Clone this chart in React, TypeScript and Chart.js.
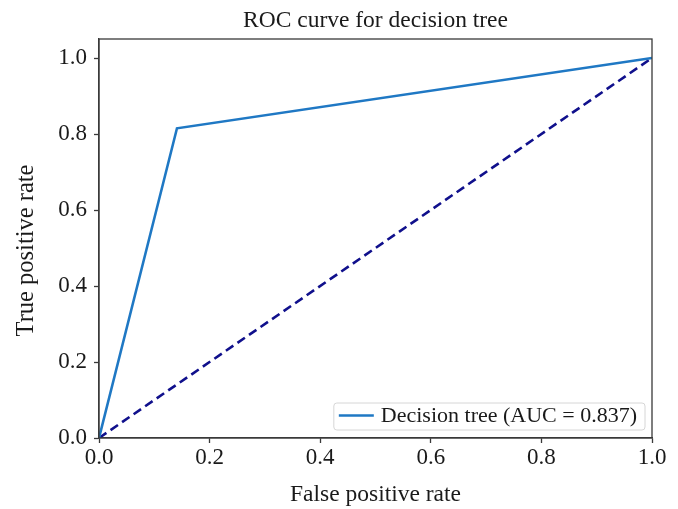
import React, { useEffect, useRef } from "react";
import { Chart, registerables } from "chart.js";

Chart.register(...registerables);

const rocFpr = [0, 0.141, 1];
const rocTpr = [0, 0.815, 1];
const chanceFpr = [0, 1];
const chanceTpr = [0, 1];
const xTickValues = [0, 0.2, 0.4, 0.6, 0.8, 1.0];
const yTickValues = [0, 0.2, 0.4, 0.6, 0.8, 1.0];
const rocLabel = "Decision tree (AUC = 0.837)";
const titleText = "ROC curve for decision tree";
const xTitle = "False positive rate";
const yTitle = "True positive rate";

const FONT = '"Liberation Serif", "Times New Roman", serif';
const TEXT = "#1a1a1a";
const AXIS = "#3a3a3a";
const ROC_COLOR = "#1f78c4";
const CHANCE_COLOR = "#10108c";

const framePlugin = {
  id: "frame",
  afterDatasetsDraw(chart: any) {
    const { ctx, chartArea } = chart;
    ctx.save();
    ctx.strokeStyle = AXIS;
    ctx.lineWidth = 1.3;
    ctx.strokeRect(chartArea.left, chartArea.top, chartArea.right - chartArea.left, chartArea.bottom - chartArea.top);
    ctx.restore();
  },
};

const textPlugin = {
  id: "texts",
  afterDraw(chart: any) {
    const { ctx, chartArea } = chart;
    ctx.save();
    ctx.fillStyle = TEXT;
    ctx.textAlign = "center";
    ctx.font = `23.5px ${FONT}`;
    ctx.textBaseline = "alphabetic";
    ctx.fillText(titleText, (chartArea.left + chartArea.right) / 2, 27);
    ctx.font = `24.5px ${FONT}`;
    ctx.textBaseline = "middle";
    ctx.translate(27, (chartArea.top + chartArea.bottom) / 2 + 12);
    ctx.rotate(-Math.PI / 2);
    ctx.fillText(yTitle, 0, 0);
    ctx.restore();
  },
};

const legendPlugin = {
  id: "cornerLegend",
  afterDraw(chart: any) {
    const { ctx, chartArea } = chart;
    const ds = chart.data.datasets[0];
    ctx.save();
    ctx.font = `22px ${FONT}`;
    const textW = ctx.measureText(ds.label).width;
    const boxRight = chartArea.right - 7;
    const boxBottom = chartArea.bottom - 8;
    const boxH = 27;
    const lineLen = 35;
    const padL = 5;
    const gap = 7;
    const padR = 8;
    const boxW = padL + lineLen + gap + textW + padR;
    const x0 = boxRight - boxW;
    const y0 = boxBottom - boxH;
    const r = 3;
    ctx.beginPath();
    ctx.moveTo(x0 + r, y0);
    ctx.lineTo(x0 + boxW - r, y0);
    ctx.quadraticCurveTo(x0 + boxW, y0, x0 + boxW, y0 + r);
    ctx.lineTo(x0 + boxW, y0 + boxH - r);
    ctx.quadraticCurveTo(x0 + boxW, y0 + boxH, x0 + boxW - r, y0 + boxH);
    ctx.lineTo(x0 + r, y0 + boxH);
    ctx.quadraticCurveTo(x0, y0 + boxH, x0, y0 + boxH - r);
    ctx.lineTo(x0, y0 + r);
    ctx.quadraticCurveTo(x0, y0, x0 + r, y0);
    ctx.closePath();
    ctx.fillStyle = "rgba(255,255,255,0.85)";
    ctx.fill();
    ctx.strokeStyle = "#d6d6d6";
    ctx.lineWidth = 1;
    ctx.stroke();
    const cy = y0 + boxH / 2;
    ctx.beginPath();
    ctx.moveTo(x0 + padL, cy - 1);
    ctx.lineTo(x0 + padL + lineLen, cy - 1);
    ctx.strokeStyle = ds.borderColor;
    ctx.lineWidth = 2.5;
    ctx.stroke();
    ctx.fillStyle = TEXT;
    ctx.textBaseline = "middle";
    ctx.textAlign = "left";
    ctx.fillText(ds.label, x0 + padL + lineLen + gap, cy);
    ctx.restore();
  },
};

export default function App() {
  const ref = useRef<HTMLCanvasElement>(null);
  useEffect(() => {
    if (!ref.current) return;
    const chart = new Chart(ref.current, {
      type: "scatter",
      data: {
        datasets: [
          {
            label: rocLabel,
            data: rocFpr.map((x, i) => ({ x, y: rocTpr[i] })),
            showLine: true,
            borderColor: ROC_COLOR,
            borderWidth: 2.6,
            pointRadius: 0,
            fill: false,
          },
          {
            label: "chance",
            data: chanceFpr.map((x, i) => ({ x, y: chanceTpr[i] })),
            showLine: true,
            borderColor: CHANCE_COLOR,
            borderWidth: 2.6,
            borderDash: [9, 5],
            pointRadius: 0,
            fill: false,
          },
        ],
      },
      options: {
        responsive: false,
        animation: false,
        layout: { padding: { left: 0, right: 26, top: 39, bottom: 0 } },
        plugins: {
          legend: { display: false },
          tooltip: { enabled: false },
          title: { display: false },
        },
        scales: {
          x: {
            type: "linear",
            min: 0,
            max: 1,
            afterBuildTicks: (s: any) => {
              s.ticks = xTickValues.map((v) => ({ value: v }));
            },
            afterFit: (s: any) => {
              s.height = 71;
            },
            ticks: {
              color: TEXT,
              font: { family: FONT, size: 23, lineHeight: 1.0 },
              padding: 3,
              maxRotation: 0,
              callback: (v: any) => Number(v).toFixed(1),
            },
            grid: { drawOnChartArea: false, drawTicks: true, tickLength: 5, color: AXIS, tickWidth: 1.3 },
            border: { color: AXIS, width: 1.3 },
            title: {
              display: true,
              text: xTitle,
              color: TEXT,
              font: { family: FONT, size: 23.5, lineHeight: 1.0 },
              padding: { top: 0, bottom: 2 },
            },
          },
          y: {
            type: "linear",
            min: 0,
            max: 1.05,
            afterBuildTicks: (s: any) => {
              s.ticks = yTickValues.map((v) => ({ value: v }));
            },
            afterFit: (s: any) => {
              s.width = 99;
            },
            ticks: {
              color: TEXT,
              font: { family: FONT, size: 23, lineHeight: 1.0 },
              padding: 7,
              callback: (v: any) => Number(v).toFixed(1),
            },
            grid: { drawOnChartArea: false, drawTicks: true, tickLength: 5, color: AXIS, tickWidth: 1.3 },
            border: { color: AXIS, width: 1.3 },
            title: { display: false },
          },
        },
      },
      plugins: [framePlugin, legendPlugin, textPlugin],
    });
    return () => chart.destroy();
  }, []);
  return (
    <div style={{ position: "absolute", left: 0, top: 0, width: 678, height: 509, background: "#fff" }}>
      <canvas ref={ref} width={678} height={509} style={{ display: "block" }} />
    </div>
  );
}
